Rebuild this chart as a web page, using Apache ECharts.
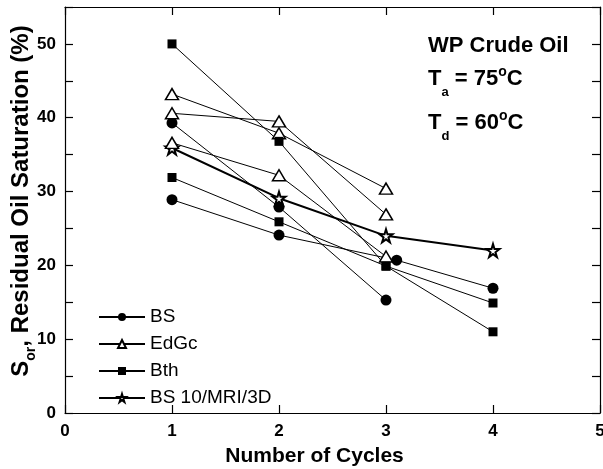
<!DOCTYPE html>
<html>
<head>
<meta charset="utf-8">
<script src="https://cdn.jsdelivr.net/npm/echarts@6/dist/echarts.min.js"></script>
<style>
html,body{margin:0;padding:0;background:#fff;}
#c{width:603px;height:469px;}
</style>
</head>
<body>
<div id="c"></div>
<script>
// ---- data ----
const legendNames = ['BS', 'EdGc', 'Bth', 'BS 10/MRI/3D'];
const xTicks = [0, 1, 2, 3, 4, 5];

// BS (filled circles)
const bs1X = [1, 2, 3];
const bs1Y = [39.3, 27.9, 15.3];
const bs2X = [1, 2, 3.1, 4];
const bs2Y = [28.9, 24.1, 20.7, 16.9];

// EdGc (open triangles)
const ed1X = [1, 2, 3];
const ed1Y = [43.2, 37.9, 30.4];
const ed2X = [1, 2, 3];
const ed2Y = [40.6, 39.5, 26.9];
const ed3X = [1, 2, 3];
const ed3Y = [36.6, 32.2, 21.2];

// Bth (filled squares)
const bt1X = [1, 2, 3, 4];
const bt1Y = [50.0, 36.8, 19.9, 11.0];
const bt2X = [1, 2, 3, 4];
const bt2Y = [31.9, 25.9, 19.9, 14.9];

// BS 10/MRI/3D (stars)
const stX = [1, 2, 3, 4];
const stY = [35.9, 29.1, 24.0, 22.0];

// ---- chart ----
const FONT = '"Liberation Sans", Arial, sans-serif';
const STAR = 'path://M50,0 L61,35 L98,35 L68,57 L79,91 L50,70 L21,91 L32,57 L2,35 L39,35 Z';

function pairs(xs, ys) { return xs.map((x, i) => [x, ys[i]]); }

function mk(name, xs, ys, symbol, size, fill, lw, bw) {
  return {
    type: 'line', name: name, data: pairs(xs, ys),
    symbol: symbol, symbolSize: size, showAllSymbol: true,
    lineStyle: { color: '#000', width: lw },
    itemStyle: { color: fill, borderColor: '#000', borderWidth: bw },
    emphasis: { disabled: true }, animation: false, silent: true
  };
}

const series = [
  mk('BS', bs1X, bs1Y, 'circle', 11, '#000', 1, 0),
  mk('EdGc', ed1X, ed1Y, 'triangle', [13, 11], '#fff', 1, 1.5),
  mk('Bth', bt1X, bt1Y, 'rect', 9, '#000', 1, 0),
  mk('BS 10/MRI/3D', stX, stY, STAR, 13, '#fff', 2, 2),
  mk('BS', bs2X, bs2Y, 'circle', 11, '#000', 1, 0),
  mk('EdGc', ed2X, ed2Y, 'triangle', [13, 11], '#fff', 1, 1.5),
  mk('EdGc', ed3X, ed3Y, 'triangle', [13, 11], '#fff', 1, 1.5),
  mk('Bth', bt2X, bt2Y, 'rect', 9, '#000', 1, 0)
];

const axisLine = { show: true, onZero: false, lineStyle: { color: '#000', width: 1.2 } };
const tick = { show: true, inside: true, length: 8, lineStyle: { color: '#000', width: 1.2 } };
const lbl = { fontFamily: FONT, fontWeight: 'bold', fontSize: 17, color: '#000' };

const tRich = {
  t: { fontFamily: FONT, fontWeight: 'bold', fontSize: 22, fill: '#000', lineHeight: 40, verticalAlign: 'middle' },
  sub: { fontFamily: FONT, fontWeight: 'bold', fontSize: 13, fill: '#000', verticalAlign: 'bottom' },
  sup: { fontFamily: FONT, fontWeight: 'bold', fontSize: 14, fill: '#000', verticalAlign: 'top', padding: [6, 0, 0, 0] }
};

const chart = echarts.init(document.getElementById('c'), null, { renderer: 'canvas' });
chart.setOption({
  backgroundColor: '#fff',
  animation: false,
  grid: { left: 65, right: 3, top: 7, bottom: 56, containLabel: false, outerBoundsMode: 'none' },
  legend: {
    orient: 'vertical', left: 93, top: 302,
    itemWidth: 46, itemHeight: 10, itemGap: 7,
    selectedMode: false,
    data: legendNames,
    textStyle: { fontFamily: FONT, fontSize: 19, color: '#000', lineHeight: 20 }
  },
  xAxis: [
    {
      type: 'value', min: xTicks[0], max: xTicks[xTicks.length - 1], interval: 1,
      position: 'bottom',
      axisLine: axisLine, axisTick: tick, splitLine: { show: false },
      axisLabel: Object.assign({ margin: 10 }, lbl),
      name: 'Number of Cycles', nameLocation: 'middle', nameGap: 33,
      nameTextStyle: { fontFamily: FONT, fontWeight: 'bold', fontSize: 21, color: '#000', padding: [0, 36, 0, 0] }
    },
    {
      type: 'value', min: xTicks[0], max: xTicks[xTicks.length - 1], interval: 1,
      position: 'top',
      axisLine: axisLine, axisTick: tick, splitLine: { show: false },
      axisLabel: { show: false }
    }
  ],
  yAxis: [
    {
      type: 'value', min: 0, max: 55, interval: 5,
      position: 'left',
      axisLine: axisLine, axisTick: tick, splitLine: { show: false },
      axisLabel: Object.assign({ margin: 9, formatter: v => (v % 10 === 0 ? String(v) : '') }, lbl),
      name: '{s|S}{sub|or}{s|, Residual Oil Saturation (%)}',
      nameLocation: 'middle', nameGap: 27, nameRotate: 90, nameMoveOverlap: false,
      nameTextStyle: {
        padding: [0, 0, 0, 18],
        rich: {
          s: { fontFamily: FONT, fontWeight: 'bold', fontSize: 24, color: '#000', lineHeight: 33, verticalAlign: 'middle' },
          sub: { fontFamily: FONT, fontWeight: 'bold', fontSize: 14, color: '#000', verticalAlign: 'bottom' }
        }
      }
    },
    {
      type: 'value', min: 0, max: 55, interval: 5,
      position: 'right',
      axisLine: axisLine, axisTick: tick, splitLine: { show: false },
      axisLabel: { show: false }
    }
  ],
  graphic: [
    {
      type: 'text', left: 428, top: 35, silent: true,
      style: { text: 'WP Crude Oil', fontFamily: FONT, fontWeight: 'bold', fontSize: 22, fill: '#000' }
    },
    {
      type: 'text', left: 428, top: 65, silent: true,
      style: { text: '{t|T}{sub|a}{t| = 75}{sup|o}{t|C}', rich: tRich }
    },
    {
      type: 'text', left: 428, top: 109, silent: true,
      style: { text: '{t|T}{sub|d}{t| = 60}{sup|o}{t|C}', rich: tRich }
    }
  ],
  series: series
});
</script>
</body>
</html>
